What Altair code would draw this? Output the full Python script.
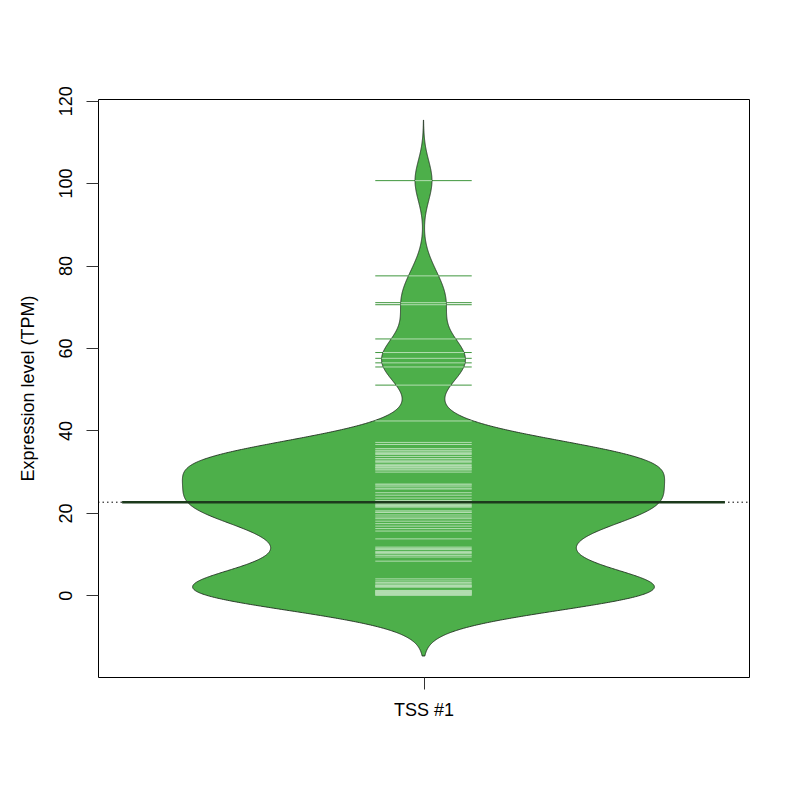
import altair as alt
import pandas as pd

# ---- data (TPM values) ----
low_vals = [0.0, 0.0, 0.0, 0.0, 0.0, 0.0,
            0.2, 0.3, 0.4, 0.5, 0.6, 0.7, 0.8, 0.9, 1.0, 1.1, 1.2,
            2.0, 2.1, 2.2, 2.4, 2.5, 2.8, 3.1, 3.5, 4.0]
mid_vals = [8.3, 9.3, 9.7, 10.1, 10.4, 10.6, 11.1, 11.4, 11.7, 13.7]
lower_broad = [15.6, 16.2, 16.8, 17.4, 18.0, 18.6, 19.0, 19.5, 20.1, 20.2,
               20.5, 21.4, 21.6, 21.8, 22.0, 22.3, 22.4, 22.5, 22.6]
upper_broad = [37.1, 36.6, 35.6, 35.2, 35.0, 34.6, 34.4, 34.2,
               33.7, 33.2, 32.8, 32.8, 32.5, 32.3, 31.8, 31.8, 31.5, 31.2,
               31.0, 30.9, 30.6, 30.4, 29.9, 29.9, 27.0, 26.8, 26.5, 26.0,
               25.8, 24.9, 24.3, 23.6, 23.0, 22.8]
upper_vals = [100.6, 77.5, 71.0, 70.5, 62.2, 58.9, 57.5, 56.4, 55.4, 51.0, 42.3]

values = low_vals + mid_vals + lower_broad + upper_broad + upper_vals
group_label = "TSS #1"
y_ticks = [0, 20, 40, 60, 80, 100, 120]

BW = 4.9          # kernel bandwidth
CUT = 3           # density extends CUT*BW beyond the data
MAXW = 0.4        # half of the maximal bean width
LL = 0.08         # half length of a bean line
lo = round(min(values) - CUT * BW, 1)
hi = round(max(values) + CUT * BW, 1)
steps = int(round((hi - lo) * 10))

df = pd.DataFrame({"v": values})
lines_df = pd.DataFrame({"key": sorted(set(int(round(v * 10)) for v in values))})
lines_df["flag"] = 1

W, H = 651, 578
FONT = "Liberation Sans"

yscale = alt.Scale(domain=[-19.8, 120.4], nice=False, zero=False)
xscale = alt.Scale(domain=[0.46, 1.54], nice=False, zero=False)
yaxis = alt.Axis(values=y_ticks, labelAngle=270, labelAlign="center",
                 labelBaseline="bottom", tickSize=12, labelPadding=11,
                 domain=False, grid=False, title="Expression level (TPM)",
                 titleAngle=270, titleX=-70, titleY=H / 2, titleAlign="center",
                 titleBaseline="middle")
xaxis = alt.Axis(values=[1], labelExpr=f"'{group_label}'", tickSize=12,
                 labelPadding=12, domain=False, grid=False, title=None,
                 labelBaseline="top")


def Y(f):
    return alt.Y(f, type="quantitative", scale=yscale, axis=yaxis)


def X(f):
    return alt.X(f, type="quantitative", scale=xscale, axis=xaxis)


dens = (alt.Chart(df)
        .transform_density("v", as_=["value", "density"], bandwidth=BW,
                           extent=[lo, hi], steps=steps)
        .transform_joinaggregate(dmax="max(density)")
        .transform_calculate(hw=f"datum.density / datum.dmax * {MAXW}",
                             xl="1 - datum.hw", xr="1 + datum.hw"))

overall = (alt.Chart(df).transform_aggregate(m="mean(v)")
           .mark_rule(color="black", strokeDash=[1.5, 3], strokeWidth=1)
           .encode(y=Y("m"), x=alt.value(0), x2=alt.value(W)))

green_lines = (alt.Chart(df)
               .transform_calculate(lx1=f"1 - {LL}", lx2=f"1 + {LL}")
               .mark_rule(color="#3f963d", strokeWidth=1)
               .encode(y=Y("v"), x=X("lx1"), x2="lx2"))

bean = (dens.mark_area(orient="horizontal", color="#4DAF4A",
                       stroke="#1e2e1e", strokeWidth=0.9)
        .encode(y=Y("value"), x=X("xl"), x2="xr"))

light_lines = (dens
               .transform_calculate(key="round(datum.value * 10)")
               .transform_lookup(lookup="key",
                                 from_=alt.LookupData(lines_df, "key", ["flag"]))
               .transform_filter("datum.flag != null")
               .transform_calculate(lx1=f"1 - min(datum.hw, {LL})",
                                    lx2=f"1 + min(datum.hw, {LL})")
               .mark_rule(color="#b3ddb1", strokeWidth=1)
               .encode(y=Y("value"), x=X("lx1"), x2="lx2"))

mean_line = (alt.Chart(df).transform_aggregate(m="mean(v)")
             .transform_calculate(a="0.5", b="1.5")
             .mark_rule(color="#1c3a1c", strokeWidth=2.5)
             .encode(y=Y("m"), x=X("a"), x2="b"))

chart = (alt.layer(overall, green_lines, bean, light_lines, mean_line)
         .properties(width=W, height=H, autosize="none",
                     padding={"left": 90, "top": 91, "right": 43, "bottom": 115})
         .configure_view(stroke="black", strokeWidth=1)
         .configure_axis(labelFont=FONT, titleFont=FONT, labelFontSize=18,
                         titleFontSize=18, titleFontWeight="normal",
                         labelColor="black", titleColor="black",
                         tickColor="#333333", tickWidth=1))

chart.save("out.html", embed_options={"renderer": "svg", "actions": False})
